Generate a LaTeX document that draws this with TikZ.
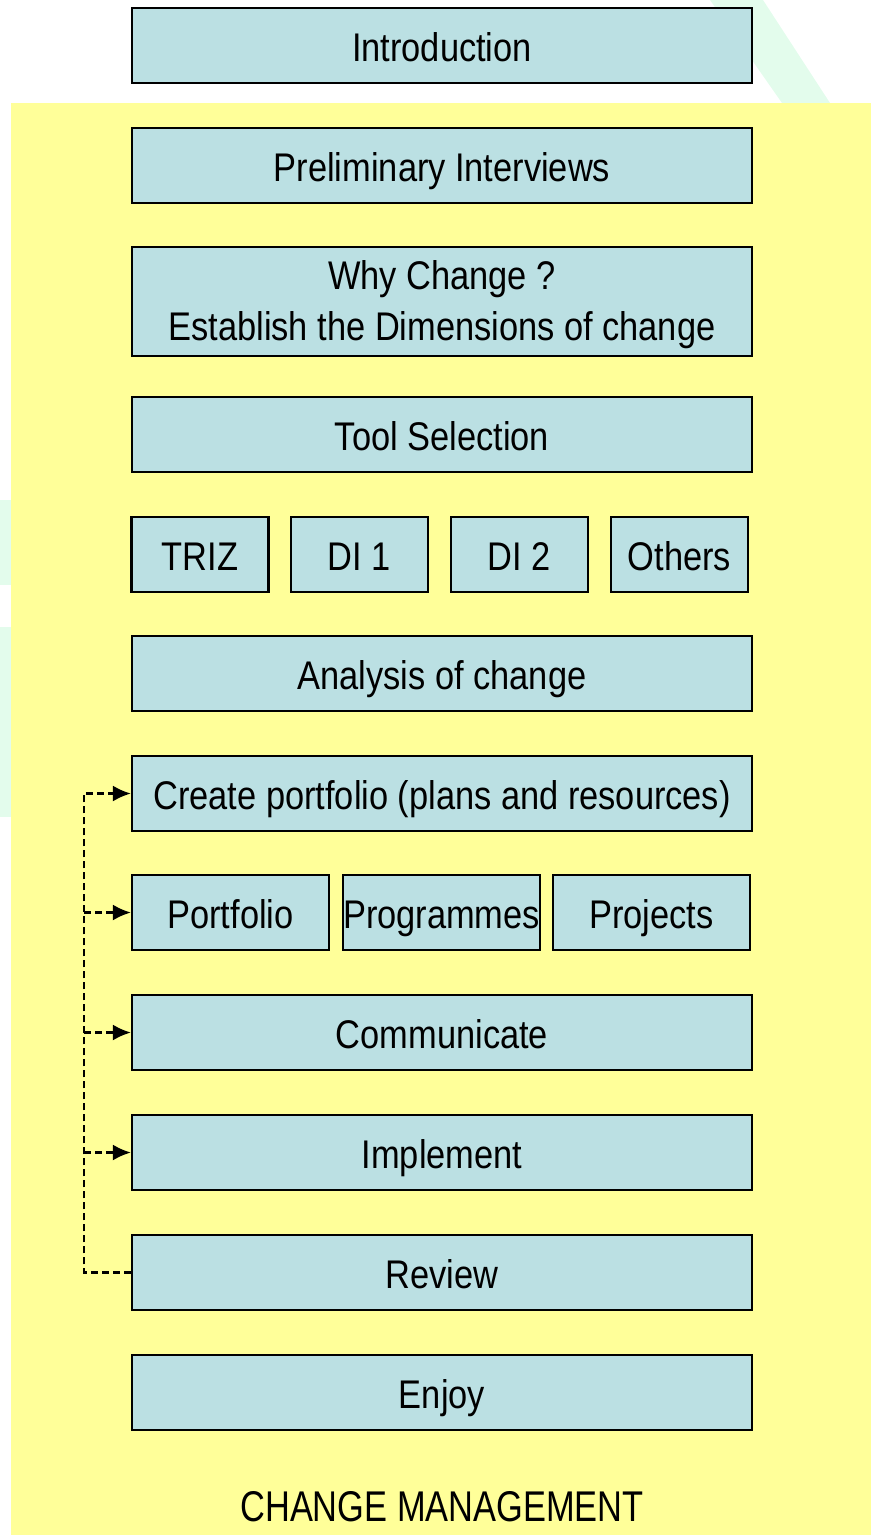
\documentclass[tikz,border=0pt]{standalone}
\usepackage{fontspec}
\setmainfont[FakeStretch=0.86]{Liberation Sans}
\newfontfamily\titlefont[FakeStretch=0.8]{Liberation Sans}
\usetikzlibrary{arrows.meta}
\definecolor{boxfill}{HTML}{BBE0E3}
\definecolor{pad}{HTML}{FFFF99}
\definecolor{mint}{HTML}{E3FCEC}
\tikzset{
	stage/.style={draw=black, line width=2.2pt, fill=boxfill, minimum width=620pt, minimum height=75pt,
		inner sep=0pt, align=center, text height=33pt, text depth=2pt, font=\fontsize{40}{51}\selectfont},
	part/.style={stage, minimum width=137pt},
	third/.style={stage, minimum width=197pt},
	feedback/.style={dash pattern=on 7pt off 4pt, line width=2.4pt},
	tip/.style={-{Latex[length=18pt,width=16pt]}}
}
\begin{document}
\begin{tikzpicture}[x=1pt,y=-1pt,line join=miter]
	\useasboundingbox (0,0) rectangle (871,1535);
	% faint background shapes
	\fill[mint] (710,0) -- (763,0) -- (830,103) -- (782,103) -- cycle;
	\fill[mint] (0,500) rectangle (11,585);
	\fill[mint] (0,627) rectangle (11,817);
	% yellow pad
	\fill[pad] (11,103) rectangle (871,1535);
	% single stages
	\foreach \name/\y/\txt in {intro/45.5/Introduction, prelim/165.5/Preliminary Interviews,
		tool/434.5/Tool Selection, analysis/673.5/Analysis of change,
		create/793.5/Create portfolio (plans and resources), communicate/1032.5/Communicate,
		implement/1152.5/Implement, review/1272.5/Review, enjoy/1392.5/Enjoy}
		{\node[stage] (\name) at (442,\y) {\txt};}
	\node[stage, minimum height=109pt, text height=, text depth=] (why) at (442,301.5)
		{\rule{0pt}{36pt}Why Change ?\\Establish the Dimensions of change};
	% tools row
	\node[part] (triz) at (200,554.5) {TRIZ};
	\node[part] (di1) at (359.5,554.5) {DI 1};
	\node[part] (di2) at (519.5,554.5) {DI 2};
	\node[part] (others) at (679.5,554.5) {Others};
	% portfolio row
	\node[third] (portfolio) at (230.5,912.5) {Portfolio};
	\node[third] (programmes) at (441.5,912.5) {Programmes};
	\node[third] (projects) at (651.5,912.5) {Projects};
	% review feeds back
	\coordinate (rail) at (84,0);
	\draw[feedback, tip] (review.west) -- (rail |- review.west) -- (rail |- create.west) -- (create.west);
	\foreach \n in {portfolio, communicate, implement}
		{\draw[feedback, tip] (rail |- \n.west) -- (\n.west);}
	\node[anchor=base, font=\titlefont\fontsize{43}{50}\selectfont] (title) at (442,1521) {CHANGE MANAGEMENT};
\end{tikzpicture}
\end{document}
